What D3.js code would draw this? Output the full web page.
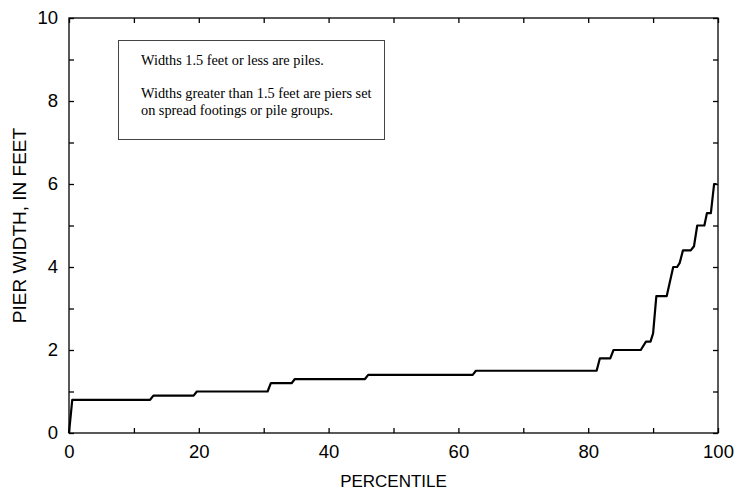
<!DOCTYPE html>
<html>
<head>
<meta charset="utf-8">
<script src="https://cdn.jsdelivr.net/npm/d3@7"></script>
<style>
  html, body { margin: 0; padding: 0; background: #fff; }
  svg { display: block; }
</style>
</head>
<body>
<svg id="chart" width="752" height="491"></svg>
<script>
// ---- data ----
const percentiles = [0, 0.5, 12.5, 13.0, 19.2, 19.7, 30.6, 31.1, 34.3, 34.8, 45.6, 46.1,
  62.2, 62.7, 81.3, 81.8, 83.4, 83.9, 88.1, 88.9, 89.6, 90.0, 90.5, 92.1, 93.1, 93.7,
  94.1, 94.6, 95.8, 96.3, 96.8, 97.9, 98.3, 98.9, 99.4, 99.8];
const pierWidths = [0, 0.8, 0.8, 0.9, 0.9, 1.0, 1.0, 1.2, 1.2, 1.3, 1.3, 1.4,
  1.4, 1.5, 1.5, 1.8, 1.8, 2.0, 2.0, 2.2, 2.2, 2.4, 3.3, 3.3, 4.0, 4.0,
  4.1, 4.4, 4.4, 4.5, 5.0, 5.0, 5.3, 5.3, 6.0, 6.0];
const xTickValues = [0, 10, 20, 30, 40, 50, 60, 70, 80, 90, 100];
const xTickLabels = [0, 20, 40, 60, 80, 100];
const yTickValues = [0, 1, 2, 3, 4, 5, 6, 7, 8, 9, 10];
const yTickLabels = [0, 2, 4, 6, 8, 10];
const noteLines = [
  "Widths 1.5 feet or less are piles.",
  "",
  "Widths greater than 1.5 feet are piers set",
  "on spread footings or pile groups."
];
const xTitle = "PERCENTILE";
const yTitle = "PIER WIDTH, IN FEET";

// ---- layout ----
const svg = d3.select("#chart");
const L = 69, R = 718, T = 18, B = 433;
const x = d3.scaleLinear().domain([0, 100]).range([L, R]);
const y = d3.scaleLinear().domain([0, 10]).range([B, T]);

const sans = "Arial, 'Liberation Sans', sans-serif";
const serif = "'Times New Roman', 'Liberation Serif', serif";

// ticks (inward) on all four sides
function tickAxis(axisFn, scale, vals, transform) {
  const g = svg.append("g").attr("transform", transform)
    .call(axisFn(scale).tickValues(vals).tickSize(5).tickFormat(""));
  g.select(".domain").remove();
  g.selectAll(".tick line").attr("stroke", "#000").attr("stroke-width", 1.3);
  return g;
}
tickAxis(d3.axisTop, x, xTickValues, `translate(0,${B})`);
tickAxis(d3.axisBottom, x, xTickValues, `translate(0,${T})`);
tickAxis(d3.axisRight, y, yTickValues, `translate(${L},0)`);
tickAxis(d3.axisLeft, y, yTickValues, `translate(${R},0)`);

// tick labels
const gxl = svg.append("g").attr("transform", `translate(0,${B})`)
  .call(d3.axisBottom(x).tickValues(xTickLabels).tickSize(0).tickPadding(12).tickFormat(d3.format("d")));
gxl.select(".domain").remove();
gxl.selectAll("text").attr("font-family", sans).attr("font-size", 18.5).attr("fill", "#000");

const gyl = svg.append("g").attr("transform", `translate(${L},0)`)
  .call(d3.axisLeft(y).tickValues(yTickLabels).tickSize(0).tickPadding(11).tickFormat(d3.format("d")));
gyl.select(".domain").remove();
gyl.selectAll("text").attr("font-family", sans).attr("font-size", 18.5).attr("fill", "#000");

// frame
svg.append("rect").attr("x", L).attr("y", T).attr("width", R - L).attr("height", B - T)
  .attr("fill", "none").attr("stroke", "#000").attr("stroke-width", 1.3);

// data line
const pts = percentiles.map((p, i) => [p, pierWidths[i]]);
svg.append("path").datum(pts)
  .attr("fill", "none").attr("stroke", "#000").attr("stroke-width", 2.2)
  .attr("stroke-linejoin", "round")
  .attr("d", d3.line().x(d => x(d[0])).y(d => y(d[1])));

// note box
svg.append("rect").attr("x", 118.5).attr("y", 40.5).attr("width", 266).attr("height", 99)
  .attr("fill", "#fff").attr("stroke", "#444").attr("stroke-width", 1);
const lineY = [65, 82, 98, 115];
noteLines.forEach((t, i) => {
  if (!t) return;
  svg.append("text").attr("x", 141).attr("y", lineY[i])
    .attr("font-family", serif).attr("font-size", 14.3).attr("fill", "#000").text(t);
});

// axis titles
svg.append("text").attr("x", (L + R) / 2).attr("y", 487).attr("text-anchor", "middle")
  .attr("font-family", sans).attr("font-size", 17).attr("fill", "#000").text(xTitle);
svg.append("text").attr("transform", `translate(25.5,${(T + B) / 2}) rotate(-90)`)
  .attr("text-anchor", "middle")
  .attr("font-family", sans).attr("font-size", 19).attr("fill", "#000").text(yTitle);
</script>
</body>
</html>
